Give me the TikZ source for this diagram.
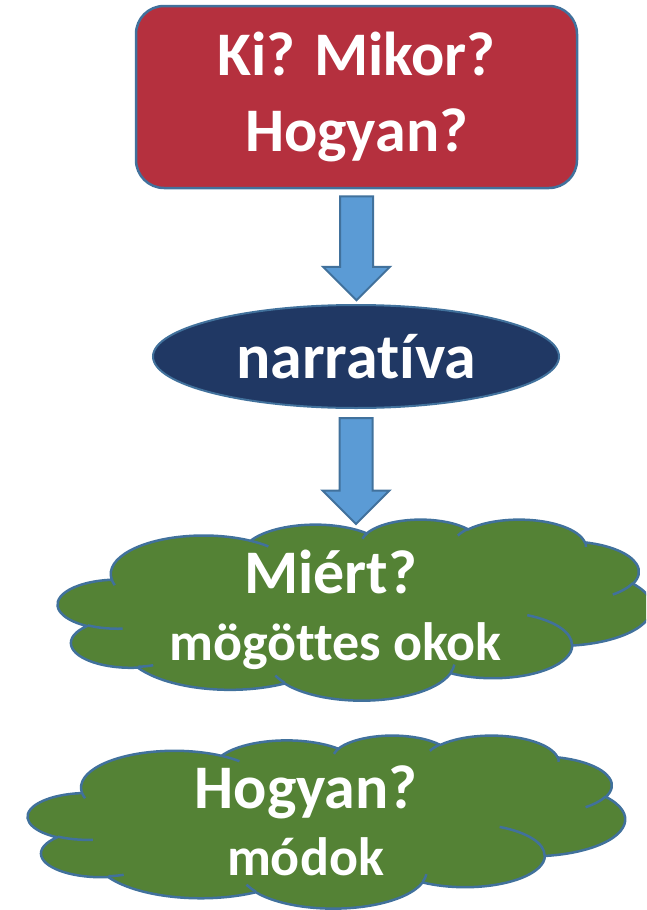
\documentclass[tikz,border=0pt]{standalone}
\usepackage{fontspec}
\setmainfont{Carlito}[Ligatures=CommonOff]
\usepackage{xcolor}
\usetikzlibrary{shapes.geometric,shapes.arrows}

\definecolor{edgeblue}{RGB}{65,113,156}
\definecolor{boxred}{RGB}{181,48,62}
\definecolor{ovalnavy}{RGB}{32,56,100}
\definecolor{arrowblue}{RGB}{91,155,213}
\definecolor{cloudgreen}{RGB}{84,130,53}

% one arc of the cloud: x radius, y radius, start angle, sweep (angles as seen on the ellipse)
\newcommand\pptarc[4]{%
  \pgfmathsetmacro\arcfrom{atan2((#1)*sin(#3),(#2)*cos(#3))}%
  \pgfmathsetmacro\arcto{atan2((#1)*sin((#3)+(#4)),(#2)*cos((#3)+(#4)))}%
  \pgfmathsetmacro\arcto{\arcto+360*round((\arcfrom+(#4)-\arcto)/360)}%
  \pgfpatharc{\arcfrom}{\arcto}{#1pt and #2pt}}

% cloud outline in a 432 x 432 frame
\newcommand\cloudoutline{%
  \pgfpathmoveto{\pgfpoint{39.00pt}{143.70pt}}%
  \pptarc{67.53}{91.90}{-190.4875}{123.7805}%
  \pptarc{53.33}{72.67}{-144.1024}{89.9452}%
  \pptarc{43.65}{59.45}{-145.8079}{99.7230}%
  \pptarc{48.57}{65.95}{-130.9861}{117.2417}%
  \pptarc{53.33}{72.73}{-78.7089}{109.0269}%
  \pptarc{67.75}{92.20}{-46.2673}{130.2690}%
  \pptarc{57.85}{78.67}{0.6250}{114.0333}%
  \pptarc{67.52}{92.15}{22.4516}{115.1726}%
  \pptarc{77.20}{105.43}{66.2426}{75.7110}%
  \pptarc{43.60}{59.18}{-274.9421}{146.7356}%
  \pptarc{43.45}{59.45}{-246.8285}{152.5189}%
  \pgfpathclose}

% the short creases inside the cloud
\newcommand\cloudcreases{%
  \pgfpathmoveto{\pgfpoint{46.93pt}{261.77pt}}\pptarc{43.45}{59.45}{86.7420}{26.4295}%
  \pgfpathmoveto{\pgfpoint{69.28pt}{348.99pt}}\pptarc{43.60}{59.18}{73.6105}{11.4475}%
  \pgfpathmoveto{\pgfpoint{164.78pt}{390.90pt}}\pptarc{67.52}{92.15}{137.6242}{14.0811}%
  \pgfpathmoveto{\pgfpoint{288.27pt}{347.51pt}}\pptarc{67.52}{92.15}{6.4533}{15.9984}%
  \pgfpathmoveto{\pgfpoint{341.29pt}{229.54pt}}\pptarc{57.85}{78.67}{-70.2924}{70.9174}%
  \pgfpathmoveto{\pgfpoint{417.98pt}{153.54pt}}\pptarc{53.33}{72.73}{30.3180}{27.7515}%
  \pgfpathmoveto{\pgfpoint{383.24pt}{54.26pt}}\pptarc{48.57}{65.95}{-13.7443}{14.8589}%
  \pgfpathmoveto{\pgfpoint{290.78pt}{39.52pt}}\pptarc{48.57}{65.95}{-149.1815}{18.1954}%
  \pgfpathmoveto{\pgfpoint{221.41pt}{47.20pt}}\pptarc{43.65}{59.45}{-163.4943}{17.6864}%
  \pgfpathmoveto{\pgfpoint{140.00pt}{51.92pt}}\pptarc{67.53}{91.90}{-66.7070}{12.3194}%
  \pgfpathmoveto{\pgfpoint{41.27pt}{157.89pt}}\pptarc{67.53}{91.90}{157.6544}{11.8582}}

% left, top, width, height
\newcommand\puffcloud[4]{%
  \begin{scope}[shift={(#1,#2)}, xscale=#3/432, yscale=-#4/432, line width=2.5pt, line join=round]
    \pgfsetstrokecolor{edgeblue}\pgfsetfillcolor{cloudgreen}%
    \cloudoutline\pgfusepath{fill,stroke}%
    \cloudcreases\pgfusepath{stroke}%
  \end{scope}}

\begin{document}
\begin{tikzpicture}[
    x=1pt, y=-1pt,
    qbox/.style={
        rectangle, draw=edgeblue, fill=boxred, line width=2.5pt,
        rounded corners=28pt, minimum width=441pt, minimum height=182pt,
        align=center, text=white, font=\bfseries\fontsize{62}{76}\selectfont
    },
    oval/.style={
        ellipse, draw=edgeblue, fill=ovalnavy, line width=2pt,
        minimum width=406pt, minimum height=103pt,
        text=white, font=\bfseries\fontsize{64}{76}\selectfont
    },
    fatarrow/.style={
        single arrow, draw=edgeblue, fill=arrowblue, line width=2pt,
        rotate=-90, anchor=tail, minimum width=65pt, minimum height=104pt,
        inner xsep=0pt, inner ysep=15.5pt,
        single arrow head extend=17pt, single arrow tip angle=90
    },
    bigtext/.style={text=white, anchor=base, font=\bfseries\fontsize{62}{74}\selectfont},
    smalltext/.style={text=white, anchor=base, font=\bfseries\fontsize{54}{64}\selectfont}
]
\useasboundingbox (0,0) rectangle (646,910);
\clip (0,0) rectangle (646,910);

% Clouds
\puffcloud{58}{519}{594}{181}
\puffcloud{28}{735}{597}{173}

% Blocks
\node[qbox] (who) at (356.5,97) {Ki? Mikor?\\Hogyan?};
\node[oval] (story) at (356,356.5) {narratíva};

% Cloud texts
\node[bigtext] (why) at (330.5,593) {Miért?};
\node[smalltext] (reasons) at (335.5,660) {mögöttes okok};
\node[bigtext] (how) at (306,808) {Hogyan?};
\node[smalltext] (ways) at (305.5,875) {módok};

% Arrows
\node[fatarrow] (arrowA) at ([yshift=-6pt]who.south) {};
\node[fatarrow, minimum height=106pt] (arrowB) at ([yshift=-8pt]story.south) {};

\end{tikzpicture}
\end{document}
